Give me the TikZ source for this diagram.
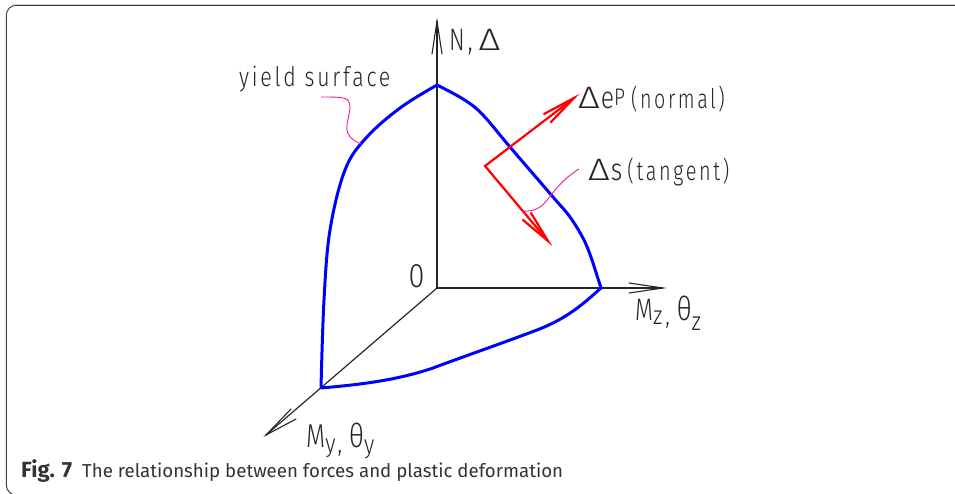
\documentclass[tikz,border=0pt]{standalone}
\usepackage{fontspec}
\usepackage{graphicx}
\setmainfont{Fira Sans}
\newfontfamily\lbl[LetterSpace=13]{Fira Sans Light}
\newfontfamily\lblc{Fira Sans Light}
\newcommand{\nw}[3][.85]{\scalebox{#1}[1]{\fontsize{#2}{#2}\selectfont #3}}
\newcommand{\dlt}{\scalebox{1.22}[1]{\lblc\fontsize{31}{31}\selectfont Δ}}
\usetikzlibrary{arrows.meta}
\tikzset{
 axis/.style={draw=black!85,line width=1.2pt},
 axhead/.style={draw=black!85,line width=1.1pt,line cap=round},
 yield/.style={draw=blue,line width=3pt,line join=round},
 redl/.style={draw=red,line width=2.2pt,line join=miter},
 lead/.style={draw=magenta!90!white,line width=0.9pt},
 lab/.style={inner sep=0pt,anchor=base west,font=\lbl,text=black!85},
 frame/.style={draw=black!75,line width=1pt,rounded corners=10pt}
}
\begin{document}
\begin{tikzpicture}[x=1pt,y=-1pt]
\useasboundingbox (0,0) rectangle (955,493);
\clip (0,0) rectangle (955,493);
\fill[black!10] (12,3.5) rectangle (955,4.6);
\draw[frame] (956,5.3) -- (6.3,5.3) -- (6.3,495) -- (40,495);
\coordinate (O) at (437,288);
\coordinate (Ntip) at (437,21);
\coordinate (Ztip) at (663,288);
\coordinate (Ytip) at (266,435);
\coordinate (Top) at (437,85);
\coordinate (Zp) at (601,288);
\coordinate (Yp) at (321,388);
\coordinate (Base) at (485,166);
\coordinate (Ne) at (574,98);
\coordinate (Te) at (548,241);
\draw[axis] (O) -- (Ntip);
\draw[axis] (O) -- (Ztip);
\draw[axis] (O) -- (Ytip);
\draw[axhead] (432,54) -- (Ntip) -- (442,54);
\draw[axhead] (629,283) -- (Ztip) -- (629,293);
\draw[axhead] (291,409) -- (Ytip) -- (296,419);
\draw[yield] plot[smooth,tension=.6] coordinates {(Top) (463,99) (482,114) (510,147) (553,197) (570,217) (584,240) (592,260)} -- (Zp)
 .. controls (583,304) and (568,318) .. (537,330) .. controls (500,344) and (465,356) .. (433,368)
 .. controls (395,381) and (355,385) .. (Yp)
 plot[smooth,tension=.6] coordinates {(Yp) (324,300) (330,230) (345,170) (366,138) (400,108) (Top)};
\draw[redl] (Ne) -- (Base) -- (Te);
\draw[redl,line cap=round] (544,114) -- (Ne) -- (551,122);
\draw[redl,line cap=round] (523,220) -- (Te) -- (531,213);
\draw[lead] (321,97) .. controls (345,97) and (350,97) .. (350,108) .. controls (348,125) and (340,135) .. (361,144);
\draw[lead] (522,211) .. controls (550,213) and (545,190) .. (579,169);
\node[lab] (t1) at (239,86) {\nw[.79]{27}{yield surface}};
\node[lab] (t2) at (449,50) {\nw[.75]{31}{N,}\hspace{6pt}\dlt};
\node[lab] (t3) at (578,108) {\dlt\hspace{1pt}\nw[.8]{31}{e}\raisebox{3pt}{\nw[.8]{24}{P}}\hspace{6pt}\nw[.73]{27}{(normal)}};
\node[lab] (t4) at (588,180) {\dlt\hspace{1pt}\nw[.8]{31}{s}\hspace{5pt}\nw[.74]{27}{(tangent)}};
\node[lab] (t5) at (408.5,287) {\nw[.85]{34}{0}};
\node[lab] (t6) at (635,320) {\nw[.75]{31}{M}\raisebox{-4pt}{\nw{26}{z,}}\hspace{7pt}\nw[.8]{33}{θ}\raisebox{-10pt}{\nw{26}{z}}};
\node[lab] (t7) at (306,447) {\nw[.75]{33}{M}\raisebox{-5pt}{\nw{26}{y,}}\hspace{7pt}\nw[.8]{33}{θ}\raisebox{-6pt}{\nw{26}{y}}};
\node[inner sep=0pt,anchor=base west,font=\fontsize{18.7}{19}\selectfont,text=black!80] (cap) at (21,477) {\fontsize{22}{22}\selectfont\textbf{Fig. 7}\hspace{10pt}\fontsize{18.7}{19}\selectfont The relationship between forces and plastic deformation};
\end{tikzpicture}
\end{document}
